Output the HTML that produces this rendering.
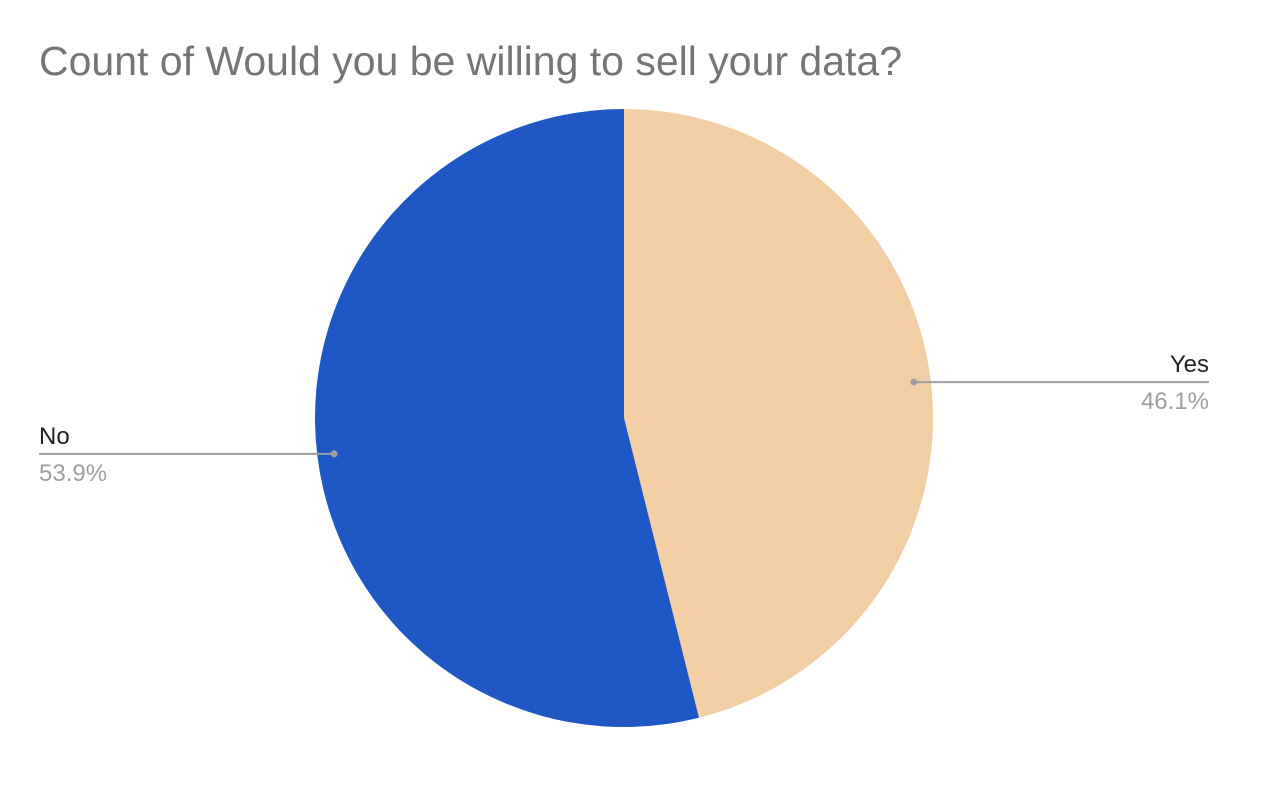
<!DOCTYPE html>
<html><head><meta charset="utf-8"><style>
body{margin:0;background:#fff;width:1266px;height:804px;overflow:hidden;font-family:"Liberation Sans",Arial,sans-serif}
</style></head><body>
<svg width="1266" height="804">
<text x="39" y="75" font-size="41" fill="#757575">Count of Would you be willing to sell your data?</text>
<g id="pie"></g>
</svg>
<script>
const categories=["Yes","No"];
const values=[46.1,53.9];
const colors=["#f3cda3","#1f58c4"];
const cx=624,cy=418,r=309;
const g=document.getElementById('pie');
const ns="http://www.w3.org/2000/svg";
const total=values.reduce((a,b)=>a+b,0);
let a0=0;
values.forEach((v,i)=>{
  const a1=a0+v/total*2*Math.PI;
  const x0=cx+r*Math.sin(a0),y0=cy-r*Math.cos(a0),x1=cx+r*Math.sin(a1),y1=cy-r*Math.cos(a1);
  const p=document.createElementNS(ns,'path');
  p.setAttribute('d',`M${cx},${cy}L${x0},${y0}A${r},${r} 0 ${a1-a0>Math.PI?1:0} 1 ${x1},${y1}Z`);
  p.setAttribute('fill',colors[i]);
  
  
  g.appendChild(p);
  const am=(a0+a1)/2;
  const dx=cx+(r-17)*Math.sin(am),dy=cy-(r-15)*Math.cos(am);
  const right=Math.sin(am)>0;
  const lx=right?1209:39;
  const dot=document.createElementNS(ns,'circle');
  dot.setAttribute('cx',dx);dot.setAttribute('cy',dy);dot.setAttribute('r',3.5);dot.setAttribute('fill','#9e9e9e');
  
  
  g.appendChild(dot);
  const ln=document.createElementNS(ns,'line');
  ln.setAttribute('x1',dx);ln.setAttribute('y1',dy);ln.setAttribute('x2',lx);ln.setAttribute('y2',dy);
  ln.setAttribute('stroke','#9e9e9e');ln.setAttribute('stroke-width',2);
  
  
  g.appendChild(ln);
  const t1=document.createElementNS(ns,'text');
  t1.setAttribute('x',lx);t1.setAttribute('y',dy-10);t1.setAttribute('font-size',24);t1.setAttribute('fill','#222');
  t1.setAttribute('text-anchor',right?'end':'start');t1.textContent=categories[i];
  
  
  g.appendChild(t1);
  const t2=document.createElementNS(ns,'text');
  t2.setAttribute('x',lx);t2.setAttribute('y',dy+27);t2.setAttribute('font-size',24);t2.setAttribute('fill','#9e9e9e');
  t2.setAttribute('text-anchor',right?'end':'start');t2.textContent=v.toFixed(1)+'%';
  
  
  g.appendChild(t2);
  a0=a1;
});
</script>
</body></html>
